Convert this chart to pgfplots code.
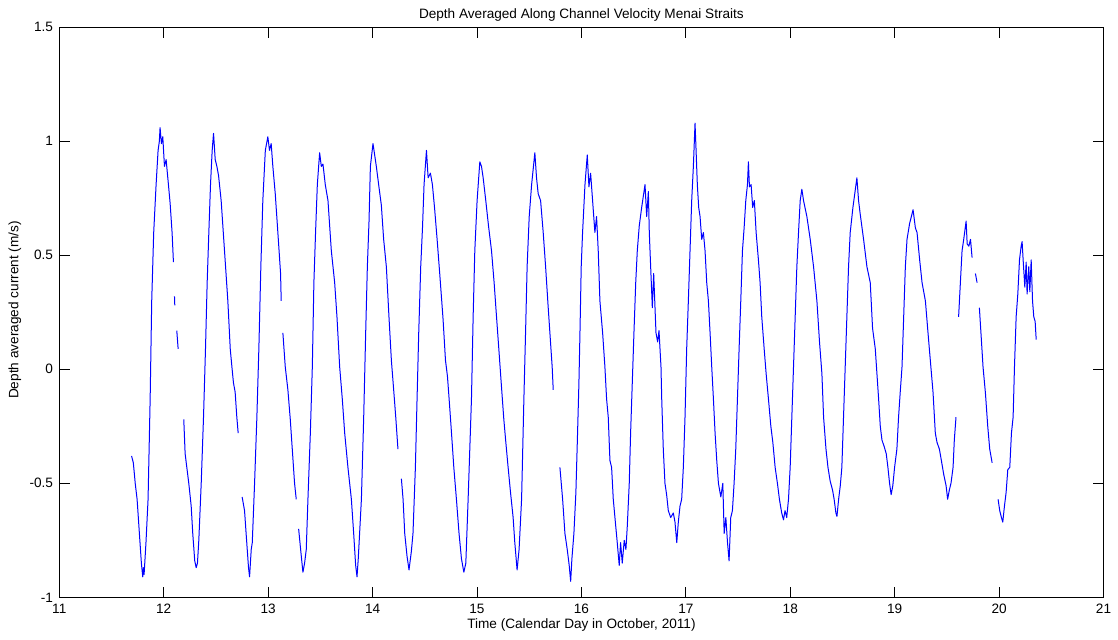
\documentclass[border=0pt]{standalone}
\usepackage{fontspec}
\setmainfont{Liberation Sans}
\usepackage{pgfplots}
\usepackage{pgfplotstable}
\pgfplotsset{compat=1.18}
\pgfplotstableread{
x y
11.687 -0.32
11.689 nan
11.692 -0.38
11.709 -0.41
11.727 -0.50
11.745 -0.57
11.767 -0.72
11.786 -0.85
11.799 -0.91
11.806 -0.87
11.812 -0.90
11.830 -0.76
11.850 -0.57
11.870 -0.13
11.885 0.30
11.904 0.60
11.927 0.81
11.946 0.96
11.958 1.00
11.965 1.06
11.978 0.99
11.991 1.02
12.007 0.89
12.023 0.92
12.045 0.81
12.061 0.73
12.080 0.60
12.093 0.47
12.097 nan
12.103 0.32
12.106 0.28
12.110 nan
12.125 0.17
12.138 0.09
12.145 nan
12.192 -0.22
12.205 -0.37
12.221 -0.43
12.240 -0.50
12.263 -0.60
12.278 -0.72
12.297 -0.84
12.311 -0.87
12.323 -0.85
12.336 -0.75
12.359 -0.50
12.381 -0.21
12.400 0.09
12.416 0.38
12.432 0.60
12.448 0.81
12.464 0.96
12.477 1.035
12.493 0.92
12.509 0.89
12.525 0.85
12.550 0.74
12.582 0.52
12.614 0.30
12.637 0.09
12.653 0.01
12.668 -0.06
12.684 -0.10
12.700 -0.21
12.713 -0.28
12.720 nan
12.751 -0.56
12.774 -0.62
12.789 -0.72
12.812 -0.87
12.822 -0.91
12.838 -0.79
12.848 -0.76
12.870 -0.50
12.892 -0.21
12.911 0.09
12.930 0.45
12.949 0.74
12.973 0.96
12.997 1.02
13.013 0.96
13.029 0.99
13.045 0.89
13.068 0.77
13.093 0.60
13.119 0.42
13.125 0.30
13.132 nan
13.141 0.16
13.164 0.01
13.189 -0.09
13.212 -0.22
13.231 -0.35
13.253 -0.50
13.269 -0.57
13.280 nan
13.292 -0.70
13.311 -0.79
13.333 -0.89
13.349 -0.85
13.365 -0.79
13.381 -0.57
13.404 -0.28
13.423 0.01
13.438 0.38
13.454 0.60
13.471 0.81
13.493 0.95
13.509 0.89
13.525 0.90
13.547 0.81
13.573 0.74
13.605 0.52
13.637 0.38
13.659 0.23
13.685 0.01
13.710 -0.13
13.733 -0.28
13.764 -0.43
13.797 -0.57
13.819 -0.72
13.838 -0.86
13.851 -0.91
13.863 -0.83
13.893 -0.57
13.915 -0.21
13.934 0.16
13.950 0.45
13.966 0.65
13.979 0.89
14.004 0.99
14.020 0.94
14.036 0.89
14.061 0.80
14.084 0.72
14.106 0.57
14.132 0.45
14.157 0.23
14.180 0.04
14.202 -0.09
14.222 -0.21
14.243 -0.35
14.255 nan
14.276 -0.48
14.292 -0.57
14.308 -0.72
14.330 -0.82
14.349 -0.88
14.371 -0.80
14.387 -0.72
14.410 -0.43
14.426 -0.13
14.442 0.16
14.461 0.45
14.478 0.62
14.493 0.81
14.516 0.96
14.532 0.84
14.554 0.86
14.573 0.81
14.595 0.70
14.618 0.57
14.643 0.42
14.675 0.22
14.698 0.04
14.717 -0.03
14.733 -0.13
14.756 -0.28
14.778 -0.43
14.803 -0.57
14.828 -0.72
14.851 -0.83
14.874 -0.89
14.893 -0.85
14.915 -0.57
14.931 -0.35
14.947 -0.13
14.963 0.23
14.979 0.52
15.001 0.74
15.027 0.91
15.043 0.89
15.059 0.84
15.084 0.74
15.110 0.63
15.139 0.52
15.164 0.38
15.187 0.23
15.212 0.07
15.235 -0.08
15.257 -0.22
15.276 -0.32
15.298 -0.43
15.321 -0.54
15.346 -0.65
15.362 -0.76
15.384 -0.88
15.403 -0.79
15.427 -0.57
15.449 -0.13
15.465 0.16
15.480 0.45
15.500 0.67
15.523 0.81
15.554 0.95
15.570 0.84
15.586 0.77
15.609 0.74
15.634 0.60
15.657 0.45
15.682 0.27
15.698 0.16
15.720 0.01
15.730 -0.09
15.740 nan
15.794 -0.43
15.820 -0.57
15.842 -0.72
15.864 -0.79
15.883 -0.86
15.897 -0.93
15.909 -0.83
15.928 -0.72
15.947 -0.54
15.963 -0.28
15.976 -0.06
15.986 0.16
15.998 0.45
16.011 0.60
16.034 0.81
16.056 0.94
16.072 0.80
16.088 0.86
16.107 0.74
16.129 0.60
16.145 0.67
16.161 0.52
16.177 0.30
16.203 0.16
16.225 0.01
16.241 -0.13
16.257 -0.21
16.273 -0.40
16.289 -0.43
16.305 -0.57
16.321 -0.65
16.343 -0.76
16.362 -0.86
16.375 -0.76
16.391 -0.85
16.410 -0.75
16.426 -0.79
16.439 -0.69
16.458 -0.50
16.471 -0.28
16.487 -0.06
16.503 0.16
16.520 0.38
16.535 0.52
16.554 0.63
16.577 0.71
16.593 0.76
16.609 0.81
16.625 0.67
16.641 0.78
16.650 0.60
16.663 0.45
16.679 0.27
16.692 0.42
16.714 0.16
16.730 0.12
16.743 0.17
16.762 0.01
16.769 -0.13
16.784 -0.35
16.800 -0.50
16.816 -0.55
16.832 -0.62
16.855 -0.65
16.880 -0.63
16.896 -0.67
16.913 -0.76
16.928 -0.67
16.944 -0.60
16.960 -0.57
16.976 -0.43
16.992 -0.21
17.008 0.09
17.024 0.30
17.040 0.52
17.056 0.74
17.072 0.89
17.088 1.08
17.098 0.96
17.110 0.81
17.123 0.71
17.136 0.67
17.152 0.57
17.168 0.60
17.184 0.52
17.200 0.38
17.216 0.30
17.232 0.16
17.248 0.01
17.264 -0.13
17.280 -0.28
17.296 -0.40
17.312 -0.50
17.335 -0.56
17.354 -0.50
17.367 -0.72
17.383 -0.65
17.399 -0.76
17.414 -0.84
17.430 -0.65
17.446 -0.62
17.462 -0.50
17.478 -0.35
17.494 -0.13
17.510 0.09
17.526 0.30
17.542 0.52
17.558 0.62
17.574 0.74
17.590 0.81
17.599 0.91
17.609 0.80
17.625 0.81
17.640 0.71
17.656 0.74
17.673 0.60
17.695 0.48
17.711 0.38
17.727 0.23
17.750 0.09
17.769 -0.02
17.791 -0.13
17.814 -0.25
17.833 -0.32
17.855 -0.43
17.877 -0.50
17.896 -0.57
17.918 -0.63
17.935 -0.66
17.950 -0.62
17.966 -0.65
17.983 -0.57
17.999 -0.43
18.015 -0.21
18.031 0.01
18.047 0.23
18.063 0.45
18.079 0.60
18.095 0.74
18.111 0.79
18.127 0.74
18.159 0.67
18.191 0.57
18.223 0.45
18.255 0.30
18.280 0.12
18.303 -0.02
18.319 -0.21
18.342 -0.35
18.361 -0.43
18.382 -0.49
18.405 -0.53
18.420 -0.57
18.437 -0.63
18.447 -0.645
18.463 -0.57
18.479 -0.51
18.494 -0.43
18.510 -0.21
18.526 0.01
18.542 0.23
18.558 0.45
18.574 0.60
18.600 0.71
18.638 0.84
18.654 0.74
18.670 0.68
18.702 0.57
18.734 0.45
18.766 0.38
18.788 0.18
18.814 0.09
18.830 -0.02
18.846 -0.13
18.862 -0.25
18.878 -0.31
18.900 -0.34
18.919 -0.37
18.935 -0.43
18.951 -0.50
18.966 -0.55
18.982 -0.51
18.999 -0.43
19.021 -0.35
19.037 -0.21
19.053 -0.10
19.070 0.01
19.086 0.23
19.102 0.45
19.118 0.57
19.143 0.64
19.176 0.70
19.198 0.62
19.214 0.60
19.239 0.48
19.262 0.38
19.294 0.30
19.319 0.16
19.341 0.04
19.367 -0.10
19.389 -0.28
19.405 -0.32
19.428 -0.35
19.447 -0.40
19.469 -0.46
19.492 -0.51
19.507 -0.57
19.523 -0.53
19.539 -0.50
19.559 -0.43
19.571 -0.31
19.587 -0.21
19.595 nan
19.612 0.23
19.629 0.38
19.645 0.52
19.661 0.57
19.684 0.65
19.694 0.55
19.710 0.54
19.726 0.57
19.741 0.49
19.750 nan
19.773 0.42
19.789 0.38
19.798 nan
19.811 0.27
19.826 0.16
19.846 0.01
19.869 -0.105
19.891 -0.25
19.910 -0.35
19.933 -0.41
19.950 nan
19.990 -0.57
20.006 -0.62
20.022 -0.65
20.035 -0.67
20.051 -0.60
20.067 -0.54
20.083 -0.44
20.102 -0.43
20.118 -0.28
20.134 -0.21
20.147 0.01
20.163 0.23
20.179 0.33
20.195 0.48
20.211 0.54
20.220 0.56
20.230 0.48
20.246 0.36
20.259 0.47
20.268 0.33
20.284 0.45
20.294 0.34
20.307 0.48
20.320 0.30
20.332 0.23
20.345 0.21
20.355 0.13
}\velocity
\begin{document}
\begin{tikzpicture}
\begin{axis}[
  at={(0,0)}, anchor=south west,
  scale only axis, width=783.15bp, height=427.5bp,
  xmin=11, xmax=21, ymin=-1, ymax=1.5,
  xtick={11,12,13,14,15,16,17,18,19,20,21},
  xticklabels={11,12,13,14,15,16,17,18,19,20,21},
  ytick={-1,-0.5,0,0.5,1,1.5},
  yticklabels={-1,-0.5,0,0.5,1,1.5},
  tick align=inside, tick pos=both, major tick length=8bp,
  axis line style={black, line width=0.75bp},
  every tick/.style={black, line width=0.75bp},
  unbounded coords=jump,
  xticklabel style={font=\fontsize{10.2bp}{12bp}\selectfont, anchor=base, inner sep=0pt, yshift=-12bp},
  yticklabel style={font=\fontsize{10.2bp}{12bp}\selectfont, anchor=east, inner sep=0pt, xshift=-4.5bp},
  title={Depth Averaged Along Channel Velocity Menai Straits},
  every axis title/.style={font=\fontsize{10.2bp}{12bp}\selectfont, at={(axis description cs:0.5,1)}, anchor=base, inner sep=0pt, yshift=6.75bp},
  xlabel={Time (Calendar Day in October, 2011)},
  every axis x label/.style={font=\fontsize{10.2bp}{12bp}\selectfont, at={(axis description cs:0.5,0)}, anchor=base, inner sep=0pt, yshift=-23.25bp},
  ylabel={Depth averaged current (m/s)},
  every axis y label/.style={font=\fontsize{10.2bp}{12bp}\selectfont, at={(axis description cs:-0.0391,0.504)}, anchor=base, inner sep=0pt, rotate=90},
]
\addplot[color={rgb,255:red,0;green,0;blue,255}, line width=0.75bp, line join=round, mark=none] table[x=x, y=y] {\velocity};
\end{axis}
\pgfresetboundingbox
\path[use as bounding box] (-44.475bp,-31.275bp) rectangle (794bp,447.975bp);
\end{tikzpicture}
\end{document}
